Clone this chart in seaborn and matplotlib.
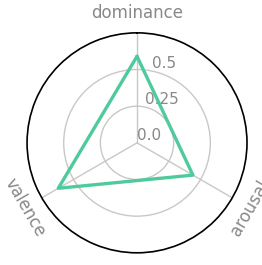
import numpy as np
import matplotlib
matplotlib.use("Agg")
import matplotlib.pyplot as plt
import seaborn as sns

# Data
categories = ["dominance", "arousal", "valence"]
values = [0.59, 0.44, 0.62]
r_ticks = [0.0, 0.25, 0.5]
r_tick_labels = ["0.0", "0.25", "0.5"]

sns.set_style("white")
plt.rcParams['font.family'] = ['DejaVu Sans']

angles = np.linspace(0, 2 * np.pi, len(categories), endpoint=False)
closed_angles = np.append(angles, angles[0])
closed_values = values + values[:1]

fig = plt.figure(figsize=(2.62, 2.65), dpi=100)
ax = fig.add_axes([0.103, 0.046, 0.84, 0.83], polar=True)
ax.set_theta_offset(np.pi / 2)
ax.set_theta_direction(-1)

sns.lineplot(x=closed_angles, y=closed_values, ax=ax, color="#4fca9c",
             linewidth=2.4, sort=False, estimator=None)

ax.set_ylim(0, 0.75)
ax.set_rgrids(r_ticks, r_tick_labels, angle=12, color="#888888", fontsize=11)
for lbl in ax.get_yticklabels():
    lbl.set_ha("left")
    lbl.set_va("bottom")
ax.set_xticks(angles)
ax.set_xticklabels([])
ax.grid(True, color="#c8c8c8", linewidth=1)
ax.spines['polar'].set_color("black")
ax.spines['polar'].set_linewidth(1.2)

# category labels, rotated along the circle
for ang, name in zip(angles, categories):
    rot = -np.degrees(ang)  # tangent rotation with clockwise direction
    if rot < -90:
        rot += 180
    ax.text(ang, 0.75 * 1.18, name, rotation=rot, rotation_mode="anchor",
            ha="center", va="center", color="#888888", fontsize=12)

fig.savefig("out.png", dpi=100)
